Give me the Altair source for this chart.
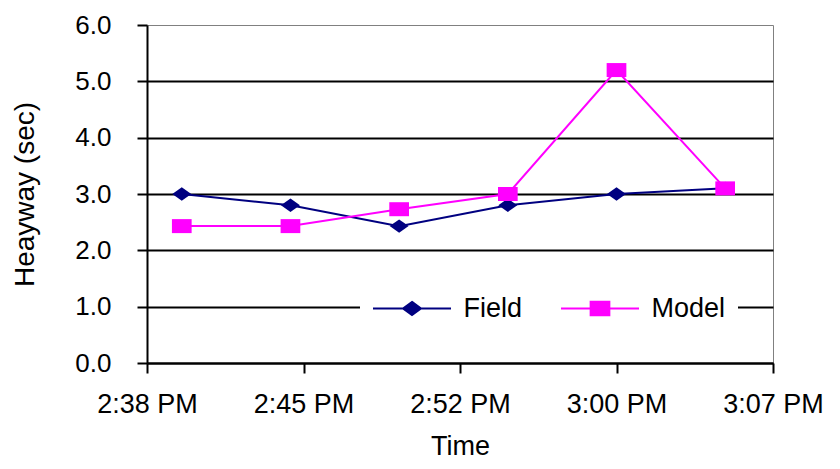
import altair as alt
import pandas as pd

# ---- data ----
times = ["2000-01-01T14:40:00", "2000-01-01T14:45:00", "2000-01-01T14:50:00",
         "2000-01-01T14:55:00", "2000-01-01T15:00:00", "2000-01-01T15:05:00"]
field_values = [3.0, 2.8, 2.43, 2.8, 3.0, 3.1]
model_values = [2.43, 2.43, 2.73, 3.0, 5.2, 3.1]
series_names = ["Field", "Model"]
series_colors = ["#000080", "#FF00FF"]
y_ticks = [0, 1, 2, 3, 4, 5, 6]
x_tick_times = [(14, 38, 24), (14, 45, 36), (14, 52, 48), (15, 0, 0), (15, 7, 12)]

rows = []
for t, f, m in zip(times, field_values, model_values):
    rows.append({"time": t, "series": "Field", "value": f})
    rows.append({"time": t, "series": "Model", "value": m})
df = pd.DataFrame(rows)

FONT = "Liberation Sans"

# marker paths (chart) and legend symbol paths (line + marker)
diamond = "M0,-0.665L0.95,0L0,0.665L-0.95,0Z"
square = "M-0.985,-0.7L0.985,-0.7L0.985,0.7L-0.985,0.7Z"
legend_shapes = [
    "M-1,0L1,0M0,-0.17L0.23,0L0,0.17L-0.23,0Z",
    "M-1,0L1,0M-0.24,-0.17L0.24,-0.17L0.24,0.17L-0.24,0.17Z",
]


def dt(h, m, s):
    return alt.DateTime(year=2000, month=1, date=1, hours=h, minutes=m, seconds=s)


x_enc = alt.X(
    "time:T",
    title="Time",
    scale=alt.Scale(domain=[dt(*x_tick_times[0]), dt(*x_tick_times[-1])]),
    axis=alt.Axis(
        values=[dt(*v) for v in x_tick_times],
        format="%-I:%M %p",
        labelFont=FONT, labelFontSize=27, labelColor="black",
        labelPadding=18, labelFlush=False, labelOverlap=False,
        tickColor="black", tickWidth=2, tickSize=10,
        domainColor="black", domainWidth=2,
        grid=False,
        titleFont=FONT, titleFontSize=27, titleColor="black",
        titleFontWeight="normal", titleBaseline="alphabetic",
        titleX=313, titleY=91,
    ),
)

y_enc = alt.Y(
    "value:Q",
    title="Heayway (sec)",
    scale=alt.Scale(domain=[0, 6], nice=False, zero=True),
    axis=alt.Axis(
        values=y_ticks,
        format=".1f",
        labelFont=FONT, labelFontSize=26, labelColor="black",
        labelPadding=26, labelFlush=False, labelOverlap=False,
        tickColor="black", tickWidth=2, tickSize=10,
        domainColor="black", domainWidth=2,
        grid=True, gridColor="black", gridWidth=2,
        gridOpacity={"condition": {"test": "datum.value == 6", "value": 0}, "value": 1},
        titleFont=FONT, titleFontSize=28, titleColor="black",
        titleFontWeight="normal", titleBaseline="alphabetic",
        titleAngle=270, titleX=-114, titleY=169,
    ),
)

base = alt.Chart(df)

layers = []
for name, col, shp in zip(series_names, series_colors, [diamond, square]):
    sub = base.transform_filter(alt.datum.series == name)
    layers.append(sub.mark_line(strokeWidth=2, color=col).encode(x=x_enc, y=y_enc))
    layers.append(
        sub.mark_point(filled=True, opacity=1, size=400, shape=shp, strokeWidth=0, color=col)
        .encode(x=x_enc, y=y_enc)
    )

legend_def = alt.Legend(
    title=None, orient="none", legendX=213, legendY=231.5,
    direction="horizontal", fillColor="white", padding=12,
    symbolSize=6084, symbolStrokeWidth=2, symbolOpacity=1,
    labelFont=FONT, labelFontSize=27, labelColor="black",
    labelOffset=11.5, columnPadding=34,
)

# layer without marks that only carries the legend (line + marker symbols)
carrier = (
    base.transform_filter("false")
    .mark_point(filled=True, opacity=1, strokeWidth=2)
    .encode(
        fill=alt.Fill("series:N", scale=alt.Scale(domain=series_names, range=series_colors), legend=legend_def),
        stroke=alt.Stroke("series:N", scale=alt.Scale(domain=series_names, range=series_colors), legend=legend_def),
        shape=alt.Shape("series:N", scale=alt.Scale(domain=series_names, range=legend_shapes), legend=legend_def),
    )
)

chart = (
    alt.layer(*layers, carrier)
    .properties(
        width=626, height=338,
        padding={"left": 139, "top": 17, "right": 59, "bottom": 98},
        autosize=alt.AutoSizeParams(type="none"),
        background="white",
    )
    .configure_view(stroke="#808080", strokeWidth=1)
)

chart.save("out.html", embed_options={"renderer": "svg", "actions": False})
